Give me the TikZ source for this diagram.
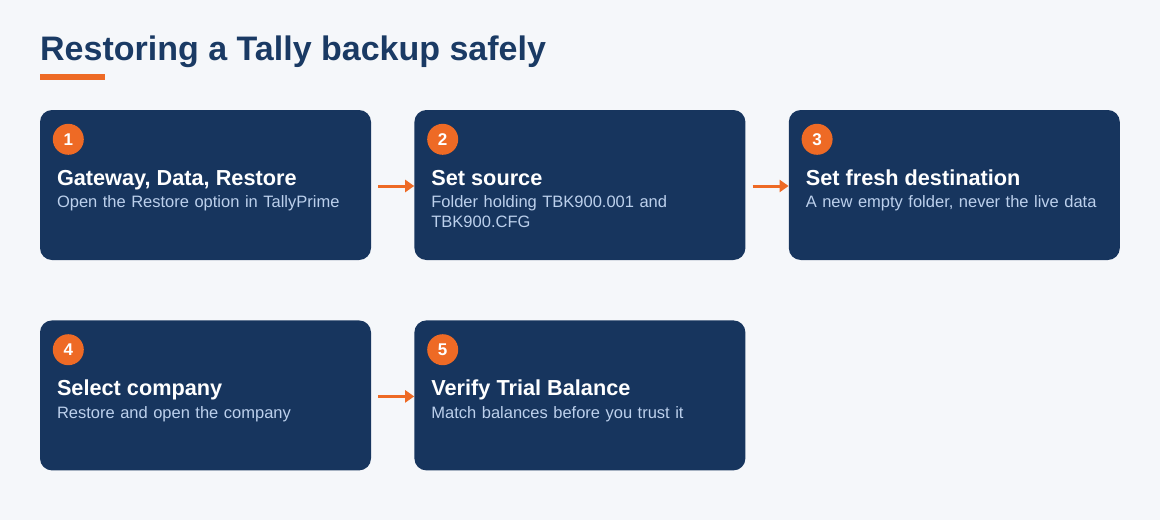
\documentclass[tikz,border=0pt]{standalone}
\usepackage{fontspec}
\setmainfont{Liberation Sans}
\usepackage{xcolor}
\usetikzlibrary{positioning,arrows.meta}

\definecolor{navy}{HTML}{17355E}
\definecolor{titleblue}{HTML}{1A3A64}
\definecolor{accent}{HTML}{EE6A25}
\definecolor{subtext}{HTML}{BCD0EC}
\definecolor{paper}{HTML}{F5F7FA}

\begin{document}
\begin{tikzpicture}[
    x=1pt, y=1pt,
    node distance=43pt,
    box/.style={fill=navy, rounded corners=12pt, minimum width=331pt, minimum height=150pt, inner sep=0pt},
    badge/.style={circle, fill=accent, text=white, font=\bfseries\fontsize{17}{17}\selectfont, minimum size=31pt, inner sep=0pt},
    head/.style={anchor=base west, text=white, font=\bfseries\fontsize{21.7}{21.7}\selectfont, inner sep=0pt},
    sub/.style={anchor=base west, text=subtext, font=\fontsize{16.5}{19.5}\selectfont, align=left, text width=300pt, inner sep=0pt},
    link/.style={draw=accent, line width=3pt, -{Triangle[length=9pt,width=12pt]}}
  ]
    % Page
    \fill[paper] (0,0) rectangle (1160,-520);
    \useasboundingbox (0,0) rectangle (1160,-520);

    % Titre
    \node[anchor=base west, text=titleblue, font=\bfseries\fontsize{34}{34}\selectfont, inner sep=0pt] (title) at (40,-60) {Restoring a Tally backup safely};
    \node[fill=accent, anchor=north west, minimum width=65pt, minimum height=6pt, inner sep=0pt] (rule) at (40,-74) {};

    % Ligne du haut
    \node[box] (gateway) at (205.5,-185) {};
    \node[box, right=of gateway] (source) {};
    \node[box, right=of source] (destination) {};

    % Ligne du bas
    \node[box, below=60pt of gateway] (company) {};
    \node[box, right=of company] (verify) {};

    % Numéros
    \node[badge] (n1) at ([xshift=28.5pt,yshift=-29.5pt]gateway.north west) {1};
    \node[badge] (n2) at ([xshift=28.5pt,yshift=-29.5pt]source.north west) {2};
    \node[badge] (n3) at ([xshift=28.5pt,yshift=-29.5pt]destination.north west) {3};
    \node[badge] (n4) at ([xshift=28.5pt,yshift=-29.5pt]company.north west) {4};
    \node[badge] (n5) at ([xshift=28.5pt,yshift=-29.5pt]verify.north west) {5};

    % Textes
    \node[head] (h1) at ([xshift=17pt,yshift=-75.5pt]gateway.north west) {Gateway, Data, Restore};
    \node[sub] (s1) at ([xshift=17pt,yshift=-98pt]gateway.north west) {Open the Restore option in TallyPrime};
    \node[head] (h2) at ([xshift=17pt,yshift=-75.5pt]source.north west) {Set source};
    \node[sub] (s2) at ([xshift=17pt,yshift=-98pt]source.north west) {Folder holding TBK900.001 and\\TBK900.CFG};
    \node[head] (h3) at ([xshift=17pt,yshift=-75.5pt]destination.north west) {Set fresh destination};
    \node[sub] (s3) at ([xshift=17pt,yshift=-98pt]destination.north west) {A new empty folder, never the live data};
    \node[head] (h4) at ([xshift=17pt,yshift=-75.5pt]company.north west) {Select company};
    \node[sub] (s4) at ([xshift=17pt,yshift=-98pt]company.north west) {Restore and open the company};
    \node[head] (h5) at ([xshift=17pt,yshift=-75.5pt]verify.north west) {Verify Trial Balance};
    \node[sub] (s5) at ([xshift=17pt,yshift=-98pt]verify.north west) {Match balances before you trust it};

    % Flèches
    \draw[link] ([xshift=7pt,yshift=-1pt]gateway.east) -- ([yshift=-1pt]source.west);
    \draw[link] ([xshift=7pt,yshift=-1pt]source.east) -- ([yshift=-1pt]destination.west);
    \draw[link] ([xshift=7pt,yshift=-1pt]company.east) -- ([yshift=-1pt]verify.west);

  \end{tikzpicture}
\end{document}
